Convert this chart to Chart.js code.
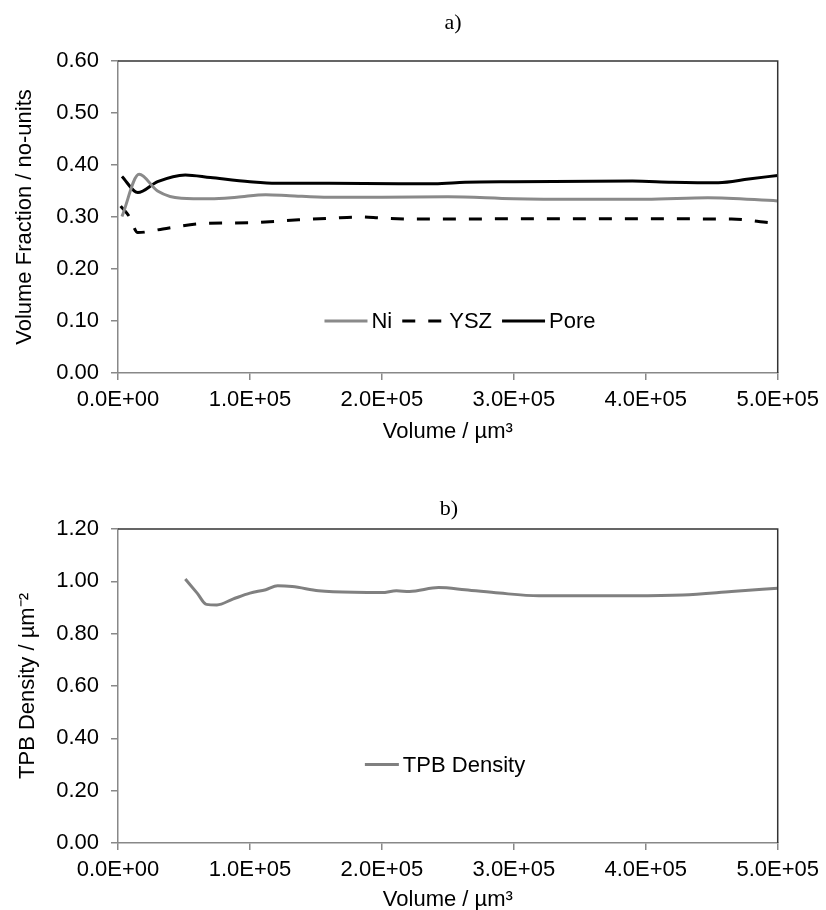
<!DOCTYPE html>
<html>
<head>
<meta charset="utf-8">
<script src="https://cdn.jsdelivr.net/npm/chart.js@4.4.0/dist/chart.umd.min.js"></script>
<style>
  body { margin: 0; background: #fff; }
  .panel { position: absolute; left: 0; width: 826px; height: 455px; }
</style>
</head>
<body>
<div class="panel" style="top:0"><canvas id="chartA" width="826" height="455"></canvas></div>
<div class="panel" style="top:455px"><canvas id="chartB" width="826" height="455"></canvas></div>
<script>
// a) volume fractions
var niX = [3000, 16000, 30000, 48000, 70000, 90000, 112000, 130000, 160000, 200000, 250000, 300000, 350000, 400000, 447000, 500000];
var niY = [0.301, 0.382, 0.350, 0.336, 0.335, 0.338, 0.343, 0.341, 0.338, 0.338, 0.339, 0.335, 0.334, 0.334, 0.337, 0.331];

var yszX = [2000, 8500, 15000, 34000, 62000, 100000, 137000, 163000, 183000, 200000, 226000, 300000, 400000, 465000, 494000];
var yszY = [0.321, 0.301, 0.270, 0.277, 0.287, 0.289, 0.2945, 0.298, 0.300, 0.298, 0.296, 0.2965, 0.2965, 0.296, 0.289];

var poreX = [3000, 15000, 30000, 51000, 70000, 100000, 120000, 160000, 213000, 240000, 263000, 300000, 390000, 420000, 455000, 478000, 500000];
var poreY = [0.378, 0.347, 0.368, 0.381, 0.376, 0.368, 0.365, 0.365, 0.364, 0.364, 0.367, 0.368, 0.369, 0.367, 0.366, 0.373, 0.380];

// b) TPB density
var tpbX = [51000, 60000, 67000, 75000, 87000, 100000, 112000, 121000, 132000, 152000, 163000, 200000, 211000, 221000, 243000, 263000, 289000, 319000, 390000, 428000, 465000, 500000];
var tpbY = [1.009, 0.955, 0.912, 0.910, 0.932, 0.955, 0.968, 0.983, 0.980, 0.964, 0.960, 0.957, 0.964, 0.961, 0.976, 0.968, 0.955, 0.945, 0.945, 0.948, 0.961, 0.974];

var xTicks = [0, 100000, 200000, 300000, 400000, 500000];

function pts(xs, ys) {
  return xs.map(function(x, i) { return {x: x, y: ys[i]}; });
}

function sci(v) {
  if (v === 0) return '0.0E+00';
  var e = Math.floor(Math.log10(v));
  var m = (v / Math.pow(10, e)).toFixed(1);
  return m + 'E+' + String(e).padStart(2, '0');
}

var SANS = "'Liberation Sans', Arial, sans-serif";
Chart.defaults.font.family = SANS;
Chart.defaults.font.size = 22;
Chart.defaults.color = '#000';

// top/right frame, panel label and the legend inside the plot
var frameAndLegend = {
  id: 'frameAndLegend',
  afterDatasetsDraw: function(chart, args, opts) {
    var ctx = chart.ctx, a = chart.chartArea;
    ctx.save();
    ctx.strokeStyle = '#333';
    ctx.lineWidth = 1.5;
    ctx.setLineDash([]);
    ctx.beginPath();
    ctx.moveTo(a.left, a.top);
    ctx.lineTo(a.right, a.top);
    ctx.lineTo(a.right, a.bottom);
    ctx.stroke();

    ctx.fillStyle = '#000';
    ctx.textBaseline = 'middle';
    ctx.textAlign = 'center';
    ctx.font = "22px 'Liberation Serif', 'Times New Roman', serif";
    ctx.fillText(opts.label, opts.labelX, opts.labelY);

    ctx.font = '22px ' + SANS;
    ctx.textAlign = 'left';
    var dsets = chart.data.datasets;
    var total = 0;
    dsets.forEach(function(ds, i) {
      total += opts.lineLen + 4 + ctx.measureText(ds.label).width;
      if (i > 0) total += 10;
    });
    var x = opts.legendX - total / 2;
    var y = chart.scales.y.getPixelForValue(opts.legendValue);
    dsets.forEach(function(ds) {
      ctx.strokeStyle = ds.borderColor;
      ctx.lineWidth = ds.borderWidth;
      ctx.setLineDash(ds.borderDash || []);
      ctx.beginPath();
      ctx.moveTo(x, y);
      ctx.lineTo(x + opts.lineLen, y);
      ctx.stroke();
      x += opts.lineLen + 4;
      ctx.fillText(ds.label, x, y + 1);
      x += ctx.measureText(ds.label).width + 10;
    });
    ctx.restore();
  }
};

function makeOptions(yMax, yStep, yTitle, yTitlePad, padTop, xHeight, xTitlePad, legend) {
  return {
    responsive: false,
    animation: false,
    layout: { padding: { top: padTop, right: 47, left: 0, bottom: 0 } },
    elements: { point: { radius: 0 }, line: { cubicInterpolationMode: 'monotone' } },
    plugins: { legend: { display: false }, tooltip: { enabled: false }, frameAndLegend: legend },
    scales: {
      x: {
        type: 'linear', min: 0, max: 500000,
        afterFit: function(s) { s.height = xHeight; },
        afterBuildTicks: function(s) { s.ticks = xTicks.map(function(v) { return {value: v}; }); },
        ticks: { callback: sci, padding: 7, maxRotation: 0 },
        grid: { drawOnChartArea: false, drawTicks: true, tickLength: 7, color: '#888', lineWidth: 1.5 },
        border: { color: '#888', width: 1.5 },
        title: { display: true, text: 'Volume / µm³', padding: { top: 0, bottom: xTitlePad } }
      },
      y: {
        min: 0, max: yMax,
        afterFit: function(s) { s.width = 118; },
        ticks: { stepSize: yStep, padding: 12, callback: function(v) { return v.toFixed(2); } },
        grid: { drawOnChartArea: false, drawTicks: true, tickLength: 7, color: '#888', lineWidth: 1.5 },
        border: { color: '#888', width: 1.5 },
        title: { display: true, text: yTitle, padding: { top: yTitlePad, bottom: 0 } }
      }
    }
  };
}

new Chart(document.getElementById('chartA').getContext('2d'), {
  type: 'line',
  data: {
    datasets: [
      { label: 'Ni', data: pts(niX, niY), borderColor: '#8a8a8a', borderWidth: 3 },
      { label: 'YSZ', data: pts(yszX, yszY), borderColor: '#000', borderWidth: 3, borderDash: [13, 13] },
      { label: 'Pore', data: pts(poreX, poreY), borderColor: '#000', borderWidth: 3 }
    ]
  },
  options: makeOptions(0.6, 0.1, 'Volume Fraction / no-units', 12, 61, 82, 10,
    { label: 'a)', labelX: 453, labelY: 23, legendX: 460, legendValue: 0.10, lineLen: 43 }),
  plugins: [frameAndLegend]
});

new Chart(document.getElementById('chartB').getContext('2d'), {
  type: 'line',
  data: {
    datasets: [
      { label: 'TPB Density', data: pts(tpbX, tpbY), borderColor: '#808080', borderWidth: 3 }
    ]
  },
  options: makeOptions(1.2, 0.2, 'TPB Density / µm⁻²', 15, 74, 67, -3,
    { label: 'b)', labelX: 449, labelY: 54, legendX: 445, legendValue: 0.30, lineLen: 34 }),
  plugins: [frameAndLegend]
});
</script>
</body>
</html>
